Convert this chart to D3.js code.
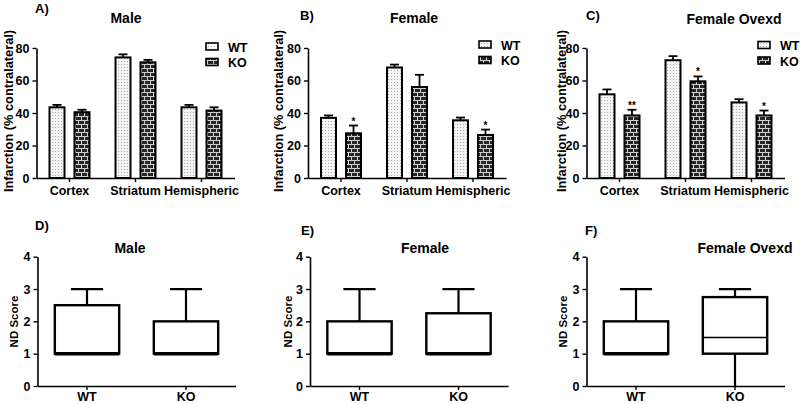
<!DOCTYPE html>
<html><head><meta charset="utf-8">
<script src="https://cdn.jsdelivr.net/npm/d3@7"></script>
<style>
body{margin:0;background:#fff}
svg{display:block}
text{font-family:"Liberation Sans",Arial,sans-serif;font-weight:bold;fill:#000}
</style>
</head><body><svg id="c" width="800" height="404"></svg>
<script>
// ---------- DATA ----------
const categories = ["Cortex", "Striatum", "Hemispheric"];
const groups = ["WT", "KO"];
const infarctTicks = [0, 20, 40, 60, 80];
const ndTicks = [0, 1, 2, 3, 4];

const maleWT = [43.5, 74.2, 43.5];
const maleWTerr = [1.5, 1.9, 1.5];
const maleKO = [40.5, 71.2, 41.5];
const maleKOerr = [1.5, 1.5, 2.0];
const maleKOsig = ["", "", ""];

const femaleWT = [37, 68, 35.5];
const femaleWTerr = [1.5, 1.8, 1.7];
const femaleKO = [27.5, 56, 26.5];
const femaleKOerr = [4.8, 7.5, 3.3];
const femaleKOsig = ["*", "", "*"];

const ovxWT = [51.5, 72.5, 46.5];
const ovxWTerr = [3, 2.5, 2];
const ovxKO = [38.5, 59.5, 38.5];
const ovxKOerr = [3.5, 3, 3];
const ovxKOsig = ["**", "*", "*"];

// ND score box plots: [min, q1, median, q3, max]
const ndMaleWT = [1, 1, 1, 2.5, 3];
const ndMaleKO = [1, 1, 1, 2, 3];
const ndFemaleWT = [1, 1, 1, 2, 3];
const ndFemaleKO = [1, 1, 1, 2.25, 3];
const ndOvxWT = [1, 1, 1, 2, 3];
const ndOvxKO = [0, 1, 1.5, 2.75, 3];

// ---------- DRAW ----------
const svg = d3.select("#c");
const defs = svg.append("defs");
const dot = defs.append("pattern").attr("id", "dots").attr("patternUnits", "userSpaceOnUse")
  .attr("width", 3).attr("height", 3);
dot.append("rect").attr("width", 3).attr("height", 3).attr("fill", "#f4f4f4");
dot.append("rect").attr("x", 1).attr("y", 1).attr("width", 1).attr("height", 1).attr("fill", "#ababab");
const brick = defs.append("pattern").attr("id", "brick").attr("patternUnits", "userSpaceOnUse")
  .attr("width", 6).attr("height", 8);
brick.append("rect").attr("width", 6).attr("height", 8).attr("fill", "#262626");
brick.append("path").attr("d", "M0,0.5H6M0,4.5H6M0.5,0.5V4.5M3.5,4.5V8.5")
  .attr("stroke", "#cfcfcf").attr("stroke-width", 1).attr("fill", "none");

function styleAxis(g) {
  g.select(".domain").attr("stroke", "#000").attr("stroke-width", 1.6);
  g.selectAll(".tick line").attr("stroke", "#000").attr("stroke-width", 1.4);
  g.selectAll(".tick text").attr("fill", "#000");
}

function barPanel(cfg) {
  const g = svg.append("g");
  const x = d3.scaleBand().domain(categories).range([cfg.x0, cfg.x0 + 198]);
  const xs = d3.scaleBand().domain(groups).range([-20, 20]).paddingInner(0.4);
  const y = d3.scaleLinear().domain([0, 80]).range([178, 48]);

  const series = [
    {key: "WT", vals: cfg.wt, err: cfg.wtErr, fill: "url(#dots)", sig: ["", "", ""]},
    {key: "KO", vals: cfg.ko, err: cfg.koErr, fill: "url(#brick)", sig: cfg.sig}
  ];
  series.forEach(s => {
    const items = categories.map((c, i) => ({c, v: s.vals[i], e: s.err[i], sig: s.sig[i]}));
    const cx = d => x(d.c) + x.bandwidth() / 2 + xs(s.key) + xs.bandwidth() / 2;
    g.selectAll(null).data(items).enter().append("line")
      .attr("x1", cx).attr("x2", cx)
      .attr("y1", d => y(d.v)).attr("y2", d => y(d.v + d.e))
      .attr("stroke", "#000").attr("stroke-width", 1.8);
    g.selectAll(null).data(items).enter().append("line")
      .attr("x1", d => cx(d) - 4.5).attr("x2", d => cx(d) + 4.5)
      .attr("y1", d => y(d.v + d.e)).attr("y2", d => y(d.v + d.e))
      .attr("stroke", "#000").attr("stroke-width", 1.8);
    g.selectAll(null).data(items).enter().append("rect")
      .attr("x", d => cx(d) - xs.bandwidth() / 2)
      .attr("width", xs.bandwidth())
      .attr("y", d => y(d.v))
      .attr("height", d => y(0) - y(d.v))
      .attr("fill", s.fill).attr("stroke", "#000").attr("stroke-width", 2);
    g.selectAll(null).data(items.filter(d => d.sig)).enter().append("text")
      .attr("x", cx).attr("y", d => y(d.v + d.e) - 1)
      .attr("text-anchor", "middle").style("font-size", "10px")
      .text(d => d.sig);
  });

  const ya = g.append("g").attr("transform", `translate(${cfg.x0},0)`)
    .call(d3.axisLeft(y).tickValues(infarctTicks).tickSize(4).tickSizeOuter(0).tickPadding(3));
  ya.selectAll("text").style("font-size", "12.5px").style("font-weight", "bold").style("font-family", "Liberation Sans, Arial, sans-serif");
  styleAxis(ya);
  const xa = g.append("g").attr("transform", `translate(0,${y(0)})`)
    .call(d3.axisBottom(x).tickSize(4).tickSizeOuter(0).tickPadding(4));
  xa.selectAll("text").style("font-size", "12.5px").style("font-weight", "bold").style("font-family", "Liberation Sans, Arial, sans-serif");
  styleAxis(xa);

  g.append("text").attr("transform", `translate(${cfg.labelX},111) rotate(-90)`)
    .attr("text-anchor", "middle").style("font-size", "12.8px")
    .text("Infarction (% contralateral)");
  g.append("text").attr("x", cfg.letterX).attr("y", cfg.letterY).style("font-size", "13px").text(cfg.letter);
  g.append("text").attr("x", cfg.titleX).attr("y", cfg.titleY).attr("text-anchor", "middle")
    .style("font-size", "14px").text(cfg.title);

  const leg = g.append("g");
  groups.forEach((k, i) => {
    const yy = cfg.legY + i * 15.5;
    leg.append("rect").attr("x", cfg.legX).attr("y", yy).attr("width", 12).attr("height", 7)
      .attr("fill", k === "WT" ? "url(#dots)" : "url(#brick)").attr("stroke", "#000").attr("stroke-width", 1.6);
    leg.append("text").attr("x", cfg.legX + 22).attr("y", yy + 8.5).style("font-size", "12.5px").text(k);
  });
}

barPanel({x0: 36.5, wt: maleWT, wtErr: maleWTerr, ko: maleKO, koErr: maleKOerr, sig: maleKOsig,
  labelX: 12.5, letter: "A)", letterX: 35, letterY: 13, title: "Male", titleX: 126, titleY: 23,
  legX: 206, legY: 43});
barPanel({x0: 308, wt: femaleWT, wtErr: femaleWTerr, ko: femaleKO, koErr: femaleKOerr, sig: femaleKOsig,
  labelX: 282.5, letter: "B)", letterX: 300, letterY: 20, title: "Female", titleX: 414, titleY: 23,
  legX: 479, legY: 41});
barPanel({x0: 586.5, wt: ovxWT, wtErr: ovxWTerr, ko: ovxKO, koErr: ovxKOerr, sig: ovxKOsig,
  labelX: 566, letter: "C)", letterX: 586, letterY: 20, title: "Female Ovexd", titleX: 734, titleY: 24,
  legX: 758, legY: 41.5});

function boxPanel(cfg) {
  const g = svg.append("g");
  const x = d3.scaleBand().domain(groups).range([cfg.x0, cfg.x0 + 198]);
  const y = d3.scaleLinear().domain([0, 4]).range([386, 256.7]);
  const items = groups.map((k, i) => ({k, s: cfg.data[i]}));
  const cx = d => x(d.k) + x.bandwidth() / 2;
  const bw = x.bandwidth() * 0.65;

  g.selectAll(null).data(items).enter().append("line")
    .attr("x1", cx).attr("x2", cx).attr("y1", d => y(d.s[3])).attr("y2", d => y(d.s[4]))
    .attr("stroke", "#000").attr("stroke-width", 2.2);
  g.selectAll(null).data(items).enter().append("line")
    .attr("x1", d => cx(d) - bw / 4).attr("x2", d => cx(d) + bw / 4)
    .attr("y1", d => y(d.s[4])).attr("y2", d => y(d.s[4]))
    .attr("stroke", "#000").attr("stroke-width", 2.2);
  g.selectAll(null).data(items.filter(d => d.s[0] < d.s[1])).enter().append("line")
    .attr("x1", cx).attr("x2", cx).attr("y1", d => y(d.s[1])).attr("y2", d => y(d.s[0]))
    .attr("stroke", "#000").attr("stroke-width", 2.2);
  g.selectAll(null).data(items).enter().append("rect")
    .attr("x", d => cx(d) - bw / 2).attr("width", bw)
    .attr("y", d => y(d.s[3])).attr("height", d => y(d.s[1]) - y(d.s[3]))
    .attr("fill", "#fff").attr("stroke", "#000").attr("stroke-width", 2.4);
  g.selectAll(null).data(items).enter().append("line")
    .attr("x1", d => cx(d) - bw / 2).attr("x2", d => cx(d) + bw / 2)
    .attr("y1", d => y(d.s[2])).attr("y2", d => y(d.s[2]))
    .attr("stroke", "#000").attr("stroke-width", d => d.s[2] === d.s[1] ? 3.5 : 1.6);

  const ya = g.append("g").attr("transform", `translate(${cfg.x0},0)`)
    .call(d3.axisLeft(y).tickValues(ndTicks).tickFormat(d3.format("d")).tickSize(4).tickSizeOuter(0).tickPadding(3));
  ya.selectAll("text").style("font-size", "12.5px").style("font-weight", "bold").style("font-family", "Liberation Sans, Arial, sans-serif");
  styleAxis(ya);
  const xa = g.append("g").attr("transform", `translate(0,${y(0)})`)
    .call(d3.axisBottom(x).tickSize(4).tickSizeOuter(0).tickPadding(2));
  xa.selectAll("text").style("font-size", "12.5px").style("font-weight", "bold").style("font-family", "Liberation Sans, Arial, sans-serif");
  styleAxis(xa);

  g.append("text").attr("transform", `translate(${cfg.labelX},321.5) rotate(-90)`)
    .attr("text-anchor", "middle").style("font-size", "11.5px").text("ND Score");
  g.append("text").attr("x", cfg.letterX).attr("y", cfg.letterY).style("font-size", "13px").text(cfg.letter);
  g.append("text").attr("x", cfg.titleX).attr("y", 253).attr("text-anchor", "middle")
    .style("font-size", "14px").text(cfg.title);
}

boxPanel({x0: 37.5, data: [ndMaleWT, ndMaleKO], labelX: 17.5, letter: "D)", letterX: 35, letterY: 230,
  title: "Male", titleX: 130});
boxPanel({x0: 310, data: [ndFemaleWT, ndFemaleKO], labelX: 291.5, letter: "E)", letterX: 301, letterY: 235,
  title: "Female", titleX: 425});
boxPanel({x0: 586.5, data: [ndOvxWT, ndOvxKO], labelX: 566.5, letter: "F)", letterX: 585, letterY: 235,
  title: "Female Ovexd", titleX: 745});
</script>
</body></html>
